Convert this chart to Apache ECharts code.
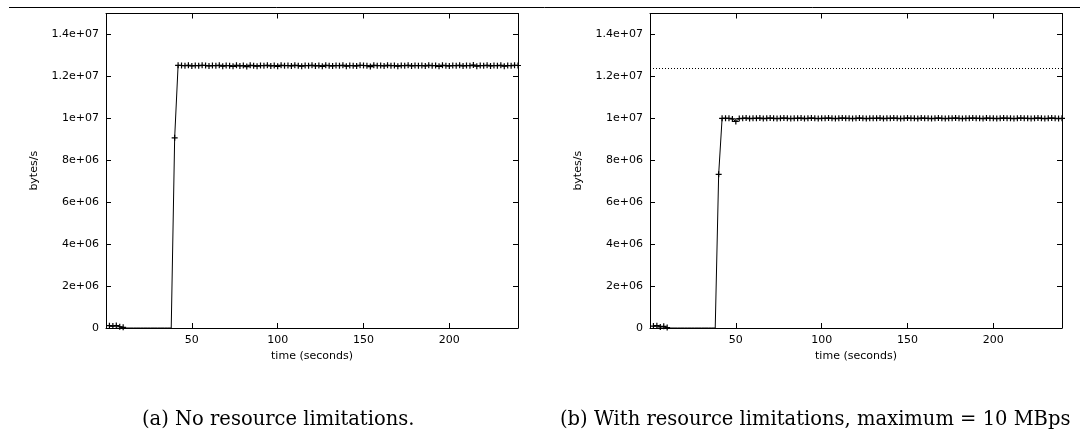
<!DOCTYPE html>
<html>
<head>
<meta charset="utf-8">
<script src="https://cdn.jsdelivr.net/npm/echarts@6/dist/echarts.min.js"></script>
<style>
  html, body { margin: 0; padding: 0; background: #fff; }
  #chart { width: 1080px; height: 433px; }
</style>
</head>
<body>
<div id="chart"></div>
<script>
// sample times (seconds), shared by both runs
const timeSec = [
  2, 4, 6, 8, 10, 12, 14, 16, 18, 20, 22, 24, 26, 28, 30, 32, 34, 36, 38, 40,
  42, 44, 46, 48, 50, 52, 54, 56, 58, 60, 62, 64, 66, 68, 70, 72, 74, 76, 78, 80,
  82, 84, 86, 88, 90, 92, 94, 96, 98, 100, 102, 104, 106, 108, 110, 112, 114, 116, 118, 120,
  122, 124, 126, 128, 130, 132, 134, 136, 138, 140, 142, 144, 146, 148, 150, 152, 154, 156, 158, 160,
  162, 164, 166, 168, 170, 172, 174, 176, 178, 180, 182, 184, 186, 188, 190, 192, 194, 196, 198, 200,
  202, 204, 206, 208, 210, 212, 214, 216, 218, 220, 222, 224, 226, 228, 230, 232, 234, 236, 238, 240
];

// (a) no resource limitations, bytes/s
const noLimitBytes = [
  110000, 90000, 120000, 60000, 30000, 0, 0, 0, 0, 0, 0, 0, 0, 0, 0, 0, 0, 0, 0, 9070000,
  12530000,
  12520000, 12510000, 12530000, 12500000, 12520000, 12510000, 12530000, 12520000, 12500000, 12520000,
  12510000, 12530000, 12490000, 12520000, 12510000, 12480000, 12530000, 12500000, 12520000, 12470000,
  12530000, 12510000, 12490000, 12520000, 12510000, 12530000, 12500000, 12520000, 12480000, 12530000,
  12510000, 12520000, 12500000, 12530000, 12510000, 12490000, 12520000, 12510000, 12530000, 12500000,
  12520000, 12480000, 12530000, 12510000, 12500000, 12520000, 12510000, 12530000, 12490000, 12520000,
  12510000, 12500000, 12530000, 12520000, 12510000, 12470000, 12530000, 12510000, 12520000, 12500000,
  12530000, 12510000, 12520000, 12490000, 12520000, 12510000, 12530000, 12500000, 12520000, 12510000,
  12520000, 12500000, 12530000, 12510000, 12520000, 12480000, 12530000, 12510000, 12500000, 12520000,
  12510000, 12530000, 12500000, 12520000, 12510000, 12540000, 12490000, 12520000, 12510000, 12530000,
  12500000, 12520000, 12510000, 12530000, 12490000, 12520000, 12510000, 12530000, 12520000
];

// (b) with resource limitations, bytes/s
const limitedBytes = [
  90000, 110000, 50000, 80000, 20000, 0, 0, 0, 0, 0, 0, 0, 0, 0, 0, 0, 0, 0, 0, 7330000,
  10000000, 10000000, 10000000, 9970000, 9850000,
  9990000, 10000000, 10010000, 9990000, 10000000, 10000000, 10010000, 9990000, 10000000, 10010000,
  10000000, 9990000, 10000000, 10010000, 10000000, 9990000, 10000000, 10000000, 10010000, 9990000,
  10000000, 10010000, 10000000, 9990000, 10000000, 10000000, 10010000, 10000000, 9990000, 10000000,
  10010000, 10000000, 10000000, 9990000, 10000000, 10010000, 10000000, 9990000, 10000000, 10000000,
  10000000, 10010000, 9990000, 10000000, 10000000, 10010000, 10000000, 9990000, 10000000, 10010000,
  10000000, 10000000, 9990000, 10010000, 10000000, 10000000, 9990000, 10000000, 10010000, 10000000,
  9990000, 10000000, 10000000, 10010000, 10000000, 9990000, 10000000, 10000000, 10010000, 10000000,
  10000000, 9990000, 10010000, 10000000, 10000000, 9990000, 10000000, 10010000, 10000000, 10000000,
  9990000, 10000000, 10010000, 10000000, 10000000, 9990000, 10000000, 10010000, 10000000, 9990000,
  10000000, 10010000, 10000000, 9990000, 10000000
];

const limitLine = 12400000; // dotted reference level in (b)

const yTickLabels = {
  0: '0', 2000000: '2e+06', 4000000: '4e+06', 6000000: '6e+06', 8000000: '8e+06',
  10000000: '1e+07', 12000000: '1.2e+07', 14000000: '1.4e+07'
};
const xTickLabels = { 50: '50', 100: '100', 150: '150', 200: '200' };

const captionA = '(a) No resource limitations.';
const captionB = '(b) With resource limitations, maximum = 10 MBps';

const font = 'DejaVu Sans';
const plusSymbol = 'path://M4,0H6V4H10V6H6V10H4V6H0V4H4Z';

// zero samples sit on the axis, gnuplot shows no marker there
function toSeriesData(values) {
  return timeSec.map((t, i) => values[i] === 0 ? { value: [t, 0], symbol: 'none' } : [t, values[i]]);
}

function makeXAxes(grid) {
  const base = {
    type: 'value', gridIndex: grid, min: 0, max: 240, interval: 50,
    splitLine: { show: false },
    axisLine: { onZero: false, lineStyle: { color: '#000', width: 1 } },
    axisTick: { inside: true, length: 5, lineStyle: { color: '#000' } }
  };
  return [
    Object.assign({}, base, {
      position: 'bottom',
      name: 'time (seconds)', nameLocation: 'middle', nameGap: 23,
      nameTextStyle: { fontFamily: font, fontSize: 11, color: '#000' },
      axisLabel: { fontFamily: font, fontSize: 11, color: '#000', margin: 7, formatter: v => xTickLabels[v] || '' }
    }),
    Object.assign({}, base, { position: 'top', axisLabel: { show: false } })
  ];
}

function makeYAxes(grid) {
  const base = {
    type: 'value', gridIndex: grid, min: 0, max: 15000000, interval: 2000000,
    splitLine: { show: false },
    axisLine: { show: true, onZero: false, lineStyle: { color: '#000', width: 1 } },
    axisTick: { show: true, inside: true, length: 5, lineStyle: { color: '#000' } }
  };
  return [
    Object.assign({}, base, {
      position: 'left',
      name: 'bytes/s', nameLocation: 'middle', nameGap: 66,
      nameTextStyle: { fontFamily: font, fontSize: 11, color: '#000' },
      axisLabel: { fontFamily: font, fontSize: 11, color: '#000', margin: 7, formatter: v => yTickLabels[v] || '' }
    }),
    Object.assign({}, base, { position: 'right', axisLabel: { show: false } })
  ];
}

function makeSeries(values, axisBase, extra) {
  return Object.assign({
    type: 'line',
    xAxisIndex: axisBase, yAxisIndex: axisBase,
    data: toSeriesData(values),
    symbol: plusSymbol, symbolSize: 6,
    lineStyle: { color: '#000', width: 1 },
    itemStyle: { color: '#000' },
    animation: false
  }, extra || {});
}

const chart = echarts.init(document.getElementById('chart'));
chart.setOption({
  backgroundColor: '#fff',
  animation: false,
  grid: [
    { left: 106, top: 13.5, width: 412, height: 314.5 },
    { left: 650, top: 13.5, width: 412, height: 314.5 }
  ],
  xAxis: makeXAxes(0).concat(makeXAxes(1)),
  yAxis: makeYAxes(0).concat(makeYAxes(1)),
  series: [
    makeSeries(noLimitBytes, 0),
    makeSeries(limitedBytes, 2, {
      markLine: {
        silent: true, symbol: 'none', animation: false,
        label: { show: false },
        lineStyle: { color: '#000', type: [1, 2], width: 1 },
        data: [{ yAxis: limitLine }]
      }
    })
  ],
  graphic: [
    { type: 'line', shape: { x1: 9, y1: 7.5, x2: 1080, y2: 7.5 }, style: { stroke: '#000', lineWidth: 1 } },
    { type: 'text', left: 142, top: 410, style: { text: captionA, font: '19.5px "DejaVu Serif"', fill: '#000' } },
    { type: 'text', left: 560, top: 410, style: { text: captionB, font: '19.5px "DejaVu Serif"', fill: '#000' } }
  ]
});
</script>
</body>
</html>
